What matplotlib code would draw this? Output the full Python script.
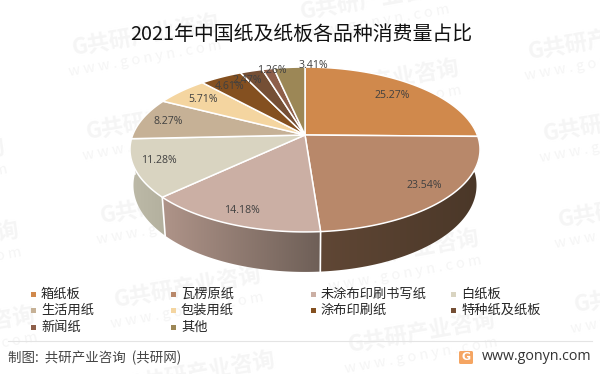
import matplotlib
matplotlib.use('Agg')
import matplotlib.pyplot as plt
from matplotlib.patches import Polygon, Rectangle, FancyBboxPatch
import numpy as np

plt.rcParams['font.family'] = ['Noto Sans CJK SC', 'DejaVu Sans']

categories = ['箱纸板', '瓦楞原纸', '未涂布印刷书写纸', '白纸板', '生活用纸', '包装用纸', '涂布印刷纸', '特种纸及纸板', '新闻纸', '其他']
shares = [25.27, 23.54, 14.18, 11.28, 8.27, 5.71, 4.61, 2.47, 1.26, 3.41]
colors = ['#D0894C', '#B8886A', '#CBAFA4', '#D9D4C1', '#C6B196', '#F4D5A0', '#845020', '#754F35', '#8E5F4A', '#9C8756']
side_left = ['#4A3728', '#604735', '#AF9489', '#BDBAA8', '#A8967F', '#CDB488', '#6F441B', '#63432D', '#78503F', '#847248']
side_right = ['#4A3728', '#4A3728', '#6E5F57', '#B3B09E', '#A8967F', '#CDB488', '#6F441B', '#63432D', '#78503F', '#847248']
# label centres in pixels
label_pos = [(392, 95), (424, 185), (242, 210), (159, 160), (168, 121), (203, 99), (230, 86), (247, 80), (272, 70), (313, 65)]

# pie geometry, in image pixels
cx, cy = 305, 135
a, b, k = 172.3, 79.9, 0.1757


def top_xy(theta):
    # theta clockwise from the top
    u = np.sin(theta)
    v = np.cos(theta)
    w = 1 + k * v
    return cx + a * u / w, cy - b * v / w


def bottom_xy(theta):
    x, y = top_xy(theta)
    return cx + (x - cx) * 0.98, y + 35 - 5 * np.cos(theta)


fig = plt.figure(figsize=(6, 3.74), dpi=100)
ax = fig.add_axes([0, 0, 1, 1])

# watermark, G position of each copy
wm_pos = [(72, 48), (86, 132), (100, 216), (114, 300),
          (300, 12), (312, 93), (326, 178), (332, 263), (348, 345),
          (528, 52), (543, 134), (558, 220), (574, 305),
          (-154, 90), (-142, 172), (-128, 255), (-112, 340), (128, 385)]
for wx, wy in wm_pos:
    ax.text(wx, wy, 'G共研产业咨询', fontsize=16, fontweight='bold', color='#F5F5F5', rotation=10,
            rotation_mode='anchor', ha='left', va='center', zorder=1, clip_on=True)
    ax.text(wx - 3, wy + 24, 'w w w . g o n y n . c o m', fontsize=10.5, color='#F5F5F5', rotation=10,
            rotation_mode='anchor', ha='left', va='center', zorder=1, clip_on=True)

# slice edges
edges = np.cumsum([0] + shares) / sum(shares) * 2 * np.pi

# side wall with a left to right gradient, only the part facing the viewer
for i in range(len(shares)):
    start = max(edges[i], np.pi * 0.4)
    stop = min(edges[i + 1], np.pi * 1.6)
    if stop <= start:
        continue
    thetas = np.linspace(start, stop, 80)
    xt, yt = top_xy(thetas)
    xb, yb = bottom_xy(thetas)
    pts = list(zip(xt, yt)) + list(zip(xb[::-1], yb[::-1]))
    grad = np.linspace(matplotlib.colors.to_rgb(side_left[i]), matplotlib.colors.to_rgb(side_right[i]), 128)
    im = ax.imshow(grad[np.newaxis, :, :], extent=[min(xt.min(), xb.min()), max(xt.max(), xb.max()), yb.max(), yt.min()],
                   aspect='auto', interpolation='bilinear', zorder=2)
    im.set_clip_path(Polygon(pts, closed=True, transform=ax.transData))

# white line where two slices meet on the wall
for e in edges[1:-1]:
    if np.pi * 0.5 < e < np.pi * 1.5:
        x0, y0 = top_xy(e)
        x1, y1 = bottom_xy(e)
        ax.plot([x0, x1], [y0, y1], color='white', lw=1.2, zorder=3)

ax.set_xlim(0, 600)
ax.set_ylim(374, 0)
ax.axis('off')

# top face
for i in range(len(shares)):
    thetas = np.linspace(edges[i], edges[i + 1], max(int(shares[i] * 4), 4))
    xs, ys = top_xy(thetas)
    pts = [(cx, cy)] + list(zip(xs, ys))
    ax.add_patch(Polygon(pts, closed=True, facecolor=colors[i], edgecolor='white', lw=1.1, joinstyle='round', zorder=4))

# percent labels
for i in range(len(shares)):
    ax.text(label_pos[i][0], label_pos[i][1], '%.2f%%' % shares[i], fontsize=7.6, color='#404040',
            family=['Open Sans', 'DejaVu Sans'], ha='center', va='center', zorder=5)

# title
ax.text(301.5, 34.5, '2021年中国纸及纸板各品种消费量占比', fontsize=14.3, color='#111111', ha='center', va='center', zorder=5)

# legend
col_x = [31, 171, 311, 451]
row_y = [294, 310, 327]
for i in range(len(categories)):
    lx = col_x[i % 4]
    ly = row_y[i // 4]
    ax.add_patch(Rectangle((lx, ly - 2.5), 5, 5, facecolor=colors[i], edgecolor='none', zorder=5))
    ax.text(lx + 10, ly, categories[i], fontsize=9.5, color='#262626', ha='left', va='center', zorder=5)

# footer
ax.plot([8, 592], [341, 341], color='#E4E4E4', lw=0.8, zorder=5)
ax.text(8, 358, '制图:  共研产业咨询  (共研网)', fontsize=9.7, color='#444444', ha='left', va='center', zorder=5)
ax.add_patch(FancyBboxPatch((459, 351), 14, 13, boxstyle='round,pad=0,rounding_size=1.5', facecolor='#F5A562', edgecolor='none', zorder=5))
ax.text(466, 357.5, 'G', fontsize=8, fontweight='bold', color='white', ha='center', va='center',
        family=['DejaVu Sans'], zorder=6)
ax.text(482, 356, 'www.gonyn.com', fontsize=10.3, color='#333333', family=['Open Sans', 'DejaVu Sans'],
        ha='left', va='center', zorder=5)

fig.savefig('out.png', dpi=100)
